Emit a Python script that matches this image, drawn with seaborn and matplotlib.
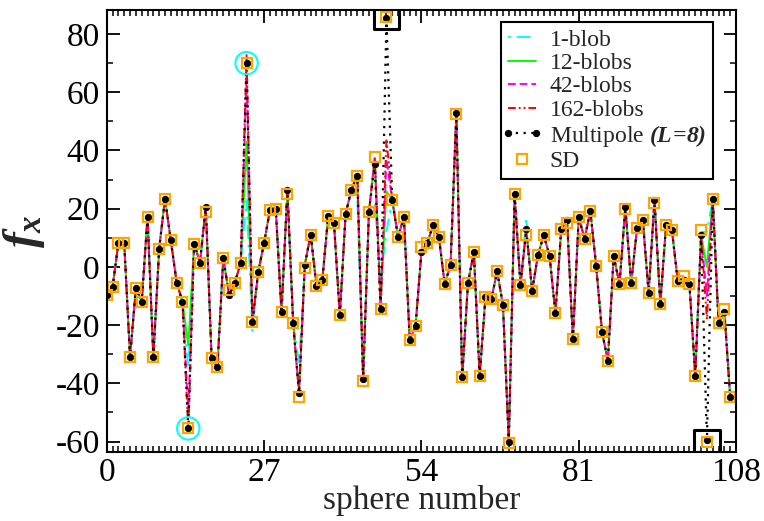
import matplotlib
matplotlib.use("Agg")
import matplotlib.pyplot as plt
from matplotlib.legend_handler import HandlerLine2D
import numpy as np
import seaborn as sns

# --- Datos: fuerza f_x por esfera (108 esferas) ---
sphere = np.arange(108)

multipole = [
    -9.5, -7, 8.2, 8.2, -31, -7.2, -12, 17.1, -31, 6.3,
    23.4, 9.1, -5.4, -12, -55.5, 8, 1.5, 20.6, -31.4, -34.3,
    3.1, -9.7, -5.4, 1.5, 70, -18.9, -1.7, 8.2, 19.4, 20,
    -15.6, 26.5, -19.4, -43.4, 0.8, 11.1, -6.6, -4.6, 17.4, 15.1,
    -16.6, 18.3, 26.5, 31.4, -38.5, 18.9, 35.2, -14.6, 85.5, 22.9,
    10.3, 17.1, -25.1, -20.3, 5.1, 8.2, 14.3, 10.3, -5.9, 0.6,
    53, -38, -5.5, 5.1, -37.5, -10.3, -11.2, -1.5, -13.1, -60.3,
    24.9, -6.3, 12.9, -8.3, 4, 10.9, 3.8, -16, 12.9, 16.2,
    -24.9, 17.1, 9.7, 19.1, 0.2, -22.3, -32.3, 3.7, -5.9, 20.5,
    -5.7, 13.2, 16, -8.9, 23, -12.6, 14.5, 12.6, -4.9, -4.6,
    -5.9, -37.4, 10.9, -59.5, 23.4, -19.2, -15.5, -44.6,
]

sd = [
    -9.5, -7, 8.2, 8.2, -31, -7.2, -12, 17.1, -31, 6.3,
    23.4, 9.1, -5.4, -12, -55.5, 8, 1.5, 18.9, -31.4, -34.3,
    3.1, -8, -5.4, 1.2, 70, -18.9, -1.7, 8.2, 19.4, 20,
    -15.6, 25.2, -19.4, -44.6, -0.5, 11.1, -6.6, -4.6, 17.4, 15.1,
    -16.6, 18.3, 26.5, 31.4, -39.2, 18.9, 37.7, -14.6, 86, 22.9,
    10.3, 17.1, -25.1, -20.3, 6.9, 8.2, 14.3, 10.3, -5.9, 0.6,
    52.5, -38, -5.5, 5.1, -37.5, -10.3, -11.2, -1.5, -13.1, -60.6,
    24.9, -6.3, 10.9, -8.3, 4, 10.9, 3.8, -16, 12.9, 15.2,
    -24.9, 17.1, 9.7, 19.1, 0.2, -22.3, -32.3, 3.7, -5.9, 19.8,
    -5.7, 13.2, 16, -8.9, 22.1, -12.6, 14.5, 12.6, -4.9, -3.2,
    -5.9, -37.4, 12.6, -60.3, 23.4, -19.2, -14.3, -44.6,
]

# Los modelos de blobs coinciden con el multipolo salvo en unas pocas esferas
blob1 = list(multipole)
blob12 = list(multipole)
blob42 = list(multipole)
blob162 = list(multipole)

for i, v in {14: -35, 24: 23, 25: -22, 33: -33, 43: 24, 46: 22, 47: -4,
             48: 12, 72: 17, 99: -6, 102: 12, 103: 12}.items():
    blob1[i] = v
for i, v in {14: -27, 24: 43, 46: 37.5, 47: -12, 48: 26, 103: 0}.items():
    blob12[i] = v
for i, v in {14: -50, 24: 66, 46: 37.5, 48: 37, 103: -10}.items():
    blob42[i] = v
for i, v in {14: -57, 24: 73, 46: 37.5, 48: 44, 103: -18}.items():
    blob162[i] = v

circle_idx = [14, 24]
box_idx = [48, 103]

x_ticks = [0, 27, 54, 81, 108]
y_ticks = [-60, -40, -20, 0, 20, 40, 60, 80]

# --- Estilo ---
sns.set_theme(style="ticks")
plt.rcParams.update(
    {
        "font.family": ["Liberation Serif", "DejaVu Serif"],
        "mathtext.fontset": "custom",
        "mathtext.rm": "Liberation Serif:bold:italic",
        "mathtext.it": "Liberation Serif:bold:italic",
        "mathtext.bf": "Liberation Serif:bold:italic",
        "axes.unicode_minus": False,
        "axes.linewidth": 1.5,
        "axes.edgecolor": "black",
    }
)

fig = plt.figure(figsize=(7.64, 5.21), dpi=100)
ax = fig.add_axes([0.1397, 0.133, 0.8237, 0.848])

series = [
    ("1-blob", blob1, "#00FFFF", (0, (1.5, 3, 7, 3))),
    ("12-blobs", blob12, "#00FF00", "-"),
    ("42-blobs", blob42, "#FF00FF", (0, (4, 2))),
    ("162-blobs", blob162, "#FF0000", (0, (4, 1.5, 1, 1.5, 1, 1.5))),
]
for label, vals, color, ls in series:
    sns.lineplot(x=sphere, y=vals, ax=ax, color=color, linestyle=ls,
                 linewidth=1.4, label=label, estimator=None, errorbar=None)

sns.lineplot(x=sphere, y=multipole, ax=ax, color="black",
             linestyle=(0, (1, 2.5)), linewidth=1.6, marker="o",
             markersize=4.5, markeredgecolor="black", markerfacecolor="black",
             label=r"Multipole $(L\!=\!8)$", estimator=None, errorbar=None)
mp_line = ax.lines[-1]

sns.lineplot(x=sphere, y=sd, ax=ax, color="#FFA500", linestyle="none",
             marker="s", markersize=7.5, markerfacecolor="none",
             markeredgecolor="#FFA500", markeredgewidth=1.6,
             label="SD", estimator=None, errorbar=None)

# Marcas de resalte (círculos cian y cuadros negros)
mp = np.array(multipole)
ax.scatter(circle_idx, mp[circle_idx], s=260, facecolors="none",
           edgecolors="#00FFFF", linewidths=1.5, zorder=5)
ax.scatter(box_idx, [sd[i] for i in box_idx], s=330, marker="s",
           facecolors="none", edgecolors="black", linewidths=2.2, zorder=5)

ax.set_xlim(0, 108)
ax.set_ylim(-63.5, 88.3)
ax.set_xticks(x_ticks)
ax.set_yticks(y_ticks)
ax.set_xticks(np.arange(0, 109, 1), minor=True)
ax.set_yticks(np.arange(-60, 81, 10), minor=True)
ax.tick_params(which="both", direction="in", top=True, right=True,
               labelsize=24, colors="black")
ax.tick_params(which="major", length=9, width=1.3, pad=5)
ax.tick_params(axis="x", which="major", pad=4)
ax.tick_params(which="minor", length=4, width=1.1)

ax.set_xlabel("sphere number", fontsize=24, labelpad=-2)
ax.set_ylabel("$f_x$", fontsize=34, labelpad=6)

leg = ax.legend(loc="upper right", bbox_to_anchor=(0.9635, 0.9728),
                borderaxespad=0, fontsize=17, frameon=True, fancybox=False,
                edgecolor="black", framealpha=1, handlelength=1.15,
                handletextpad=0.6, labelspacing=0.08, borderpad=0.3,
                handler_map={mp_line: HandlerLine2D(numpoints=2, marker_pad=0)})
leg.get_frame().set_linewidth(1.5)

fig.savefig("out.png", dpi=100)
plt.close(fig)
